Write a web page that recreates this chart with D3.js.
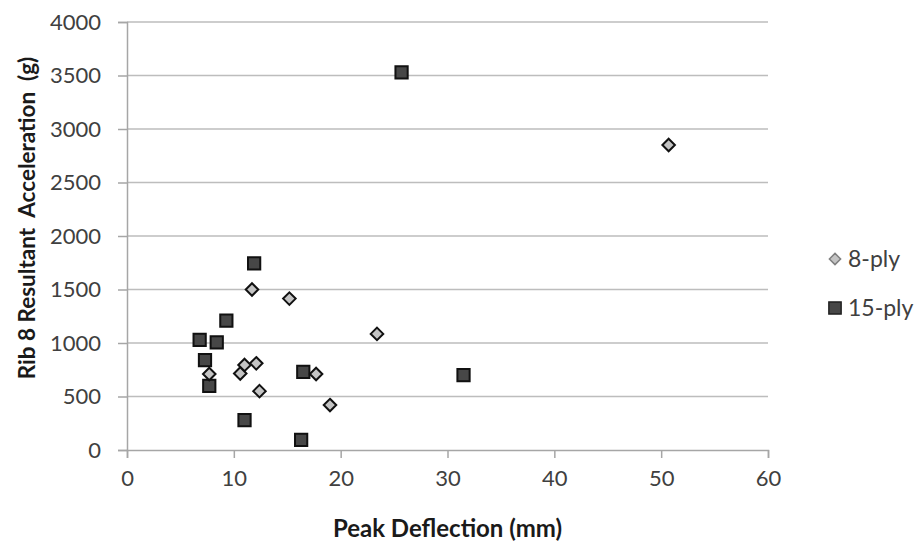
<!DOCTYPE html>
<html>
<head>
<meta charset="utf-8">
<script src="https://cdn.jsdelivr.net/npm/d3@7"></script>
<style>
  html, body { margin: 0; padding: 0; background: #fff; }
  svg { display: block; }
  text { font-family: Lato, "Open Sans", sans-serif; }
</style>
</head>
<body>
<svg id="chart" width="919" height="543"></svg>
<script>
// ---- data ----
const ply8X  = [11.7, 15.2, 23.4, 11.0, 12.1, 10.6, 7.7, 17.7, 12.4, 19.0, 50.7];
const ply8Y  = [1500, 1415, 1085, 795, 810, 715, 710, 710, 550, 420, 2850];
const ply15X = [25.7, 11.9, 9.3, 6.8, 8.4, 7.3, 7.7, 16.5, 31.5, 11.0, 16.3];
const ply15Y = [3530, 1745, 1210, 1030, 1005, 840, 600, 730, 700, 280, 95];
const xTicks = [0, 10, 20, 30, 40, 50, 60];
const yTicks = [0, 500, 1000, 1500, 2000, 2500, 3000, 3500, 4000];
const seriesNames = ["8-ply", "15-ply"];
const xTitle = "Peak Deflection (mm)";
const yTitle = "Rib 8 Resultant  Acceleration  (g)";

const svg = d3.select("#chart");
const pL = 127, pR = 768, pT = 22, pB = 450;
const x = d3.scaleLinear().domain([0, 60]).range([pL, pR]);
const y = d3.scaleLinear().domain([0, 4000]).range([pB, pT]);

// gridlines
svg.append("g").selectAll("line").data(yTicks.filter(d => d > 0)).join("line")
  .attr("x1", pL).attr("x2", pR)
  .attr("y1", d => y(d)).attr("y2", d => y(d))
  .attr("stroke", "#bdbdbd").attr("stroke-width", 1.5);

// y axis
const yAxis = svg.append("g").attr("transform", `translate(${pL},0)`)
  .call(d3.axisLeft(y).tickValues(yTicks).tickSize(9).tickPadding(17).tickFormat(d3.format("d")));
yAxis.select(".domain").attr("stroke", "#a6a6a6").attr("stroke-width", 1.5);
yAxis.selectAll(".tick line").attr("stroke", "#a6a6a6").attr("stroke-width", 1.5);
yAxis.selectAll(".tick text").attr("font-size", 22).attr("fill", "#404040")
  .style("font-family", "Lato, 'Open Sans', sans-serif");

// x axis
const xAxis = svg.append("g").attr("transform", `translate(0,${pB})`)
  .call(d3.axisBottom(x).tickValues(xTicks).tickSize(8).tickPadding(12).tickFormat(d3.format("d")));
xAxis.select(".domain").attr("stroke", "#a6a6a6").attr("stroke-width", 1.5);
xAxis.selectAll(".tick line").attr("stroke", "#a6a6a6").attr("stroke-width", 1.5);
xAxis.selectAll(".tick text").attr("font-size", 22).attr("fill", "#404040")
  .style("font-family", "Lato, 'Open Sans', sans-serif");

// titles
svg.append("text").attr("x", (pL + pR) / 2).attr("y", 537)
  .attr("text-anchor", "middle").attr("font-size", 24).attr("font-weight", "bold")
  .attr("fill", "#1a1a1a").text(xTitle);
svg.append("text").attr("transform", "translate(35,218) rotate(-90)")
  .attr("text-anchor", "middle").attr("font-size", 22.5).attr("font-weight", "bold")
  .style("white-space", "pre")
  .attr("fill", "#1a1a1a").text(yTitle);

// markers
const sq = d3.symbol().type(d3.symbolSquare).size(150);
const dm = d3.symbol().type(d3.symbolDiamond2).size(100);

const d15 = ply15X.map((v, i) => [v, ply15Y[i]]);
const d8 = ply8X.map((v, i) => [v, ply8Y[i]]);

svg.append("g").selectAll("path").data(d15).join("path")
  .attr("d", sq)
  .attr("transform", d => `translate(${x(d[0])},${y(d[1])})`)
  .attr("fill", "#474747").attr("stroke", "#111").attr("stroke-width", 2);

svg.append("g").selectAll("path").data(d8).join("path")
  .attr("d", dm)
  .attr("transform", d => `translate(${x(d[0])},${y(d[1])})`)
  .attr("fill", "#c4c4c4").attr("stroke", "#111").attr("stroke-width", 2);

// legend
const lg = svg.append("g");
const legendY = [259, 308];
lg.append("path").attr("d", d3.symbol().type(d3.symbolDiamond2).size(80))
  .attr("transform", `translate(835,${legendY[0]})`)
  .attr("fill", "#c4c4c4").attr("stroke", "#7f7f7f").attr("stroke-width", 1.5);
lg.append("path").attr("d", d3.symbol().type(d3.symbolSquare).size(150))
  .attr("transform", `translate(835,${legendY[1]})`)
  .attr("fill", "#474747").attr("stroke", "#222").attr("stroke-width", 1.5);
lg.selectAll("text").data(seriesNames).join("text")
  .attr("x", 848).attr("y", (d, i) => legendY[i])
  .attr("dy", "0.35em").attr("font-size", 23).attr("fill", "#404040")
  .text(d => d);
</script>
</body>
</html>
